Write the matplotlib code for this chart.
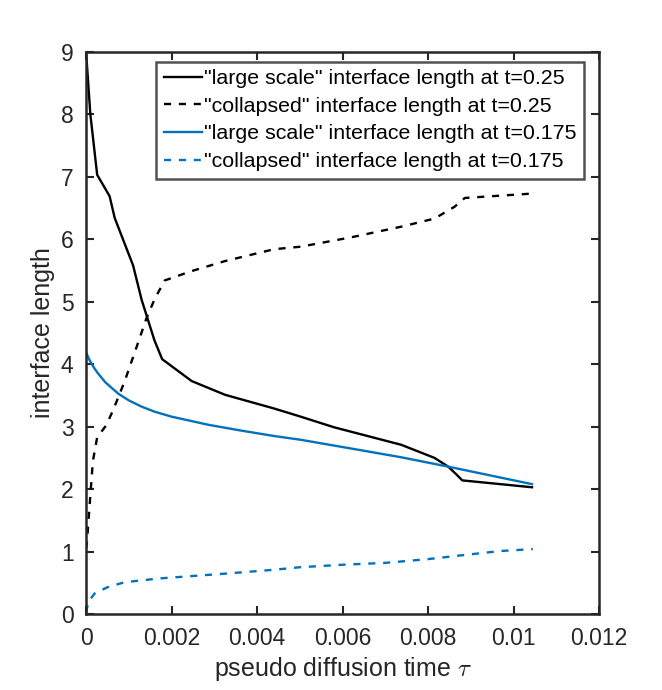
import matplotlib
matplotlib.use('Agg')
from matplotlib import pyplot as plt

# "large scale" interface length, t=0.25 (black solid)
ls25_tau = [0, 0.0001, 0.00026, 0.00055, 0.00067, 0.0011, 0.0013, 0.0016, 0.00178,
            0.00247, 0.00325, 0.0044, 0.00502, 0.0058, 0.00737, 0.00815, 0.00847,
            0.00867, 0.0088, 0.01043]
ls25_len = [9.0, 8.0, 7.03, 6.69, 6.34, 5.58, 5.03, 4.38, 4.08,
            3.73, 3.51, 3.29, 3.16, 2.99, 2.71, 2.50, 2.36,
            2.23, 2.14, 2.03]

# "collapsed" interface length, t=0.25 (black dashed)
col25_tau = [0, 0.00002, 0.0001, 0.00016, 0.00026, 0.00047, 0.00063, 0.0009, 0.00122,
             0.00141, 0.00161, 0.00184, 0.00247, 0.00325, 0.0044, 0.00502, 0.0062,
             0.00737, 0.00815, 0.00862, 0.00886, 0.01043]
col25_len = [1.05, 1.14, 1.90, 2.45, 2.83, 3.02, 3.26, 3.72, 4.35,
             4.73, 5.05, 5.34, 5.49, 5.65, 5.84, 5.88, 6.03,
             6.20, 6.33, 6.52, 6.66, 6.73]

# "large scale" interface length, t=0.175 (blue solid)
ls175_tau = [0, 0.00005, 0.0001, 0.00018, 0.00027, 0.00045, 0.00075, 0.001, 0.0013,
             0.0016, 0.002, 0.00286, 0.0036, 0.0044, 0.00502, 0.0062, 0.00737,
             0.00847, 0.01043]
ls175_len = [4.19, 4.11, 4.04, 3.95, 3.86, 3.71, 3.53, 3.42, 3.32,
             3.24, 3.16, 3.03, 2.94, 2.85, 2.79, 2.65, 2.51,
             2.36, 2.08]

# "collapsed" interface length, t=0.175 (blue dashed)
col175_tau = [0, 0.00003, 0.00008, 0.0002, 0.0005, 0.0009, 0.0017, 0.0025, 0.0033,
              0.0044, 0.0050, 0.006, 0.007, 0.008, 0.0089, 0.0097, 0.01045]
col175_len = [0.03, 0.12, 0.22, 0.33, 0.43, 0.51, 0.57, 0.61, 0.65,
              0.71, 0.75, 0.79, 0.82, 0.88, 0.95, 1.01, 1.04]

x_ticks = [0, 0.002, 0.004, 0.006, 0.008, 0.01, 0.012]
x_ticklabels = ['0', '0.002', '0.004', '0.006', '0.008', '0.01', '0.012']
y_ticks = [0, 1, 2, 3, 4, 5, 6, 7, 8, 9]

plt.rcParams['font.family'] = ['Liberation Sans', 'DejaVu Sans']
plt.rcParams['mathtext.fontset'] = 'cm'

blue = '#0072BD'
axcol = '#262626'

fig = plt.figure(figsize=(6.62, 6.90), dpi=100)
ax = fig.add_axes([0.13, 0.11, 0.775, 0.815])

dash = (0, (3, 3.3))
lw = 1.7
ax.plot(ls25_tau, ls25_len, color='black', lw=lw,
        label='"large scale" interface length at t=0.25')
ax.plot(col25_tau, col25_len, color='black', lw=lw, linestyle=dash,
        label='"collapsed" interface length at t=0.25')
ax.plot(ls175_tau, ls175_len, color=blue, lw=lw,
        label='"large scale" interface length at t=0.175')
ax.plot(col175_tau, col175_len, color=blue, lw=lw, linestyle=dash,
        label='"collapsed" interface length at t=0.175')

ax.set_xlim(0, 0.012)
ax.set_ylim(0, 9)
ax.set_xticks(x_ticks)
ax.set_xticklabels(x_ticklabels)
ax.set_yticks(y_ticks)

for sp in ax.spines.values():
    sp.set_color(axcol)
    sp.set_linewidth(1.8)
ax.tick_params(direction='in', length=6, width=1.5, colors=axcol,
               labelsize=16.5, top=True, right=True, pad=9)

ax.set_xlabel(r'pseudo diffusion time $\tau$', fontsize=18, color=axcol)
ax.set_ylabel('interface length', fontsize=18, color=axcol)

leg = ax.legend(loc='upper right', bbox_to_anchor=(0.971, 0.982), fontsize=15.4,
                frameon=True, fancybox=False, handlelength=1.8, handletextpad=0.1,
                borderpad=0.35, labelspacing=0.4, borderaxespad=0)
leg.get_frame().set_edgecolor(axcol)
leg.get_frame().set_linewidth(1.8)

fig.savefig('out.png', dpi=100)
